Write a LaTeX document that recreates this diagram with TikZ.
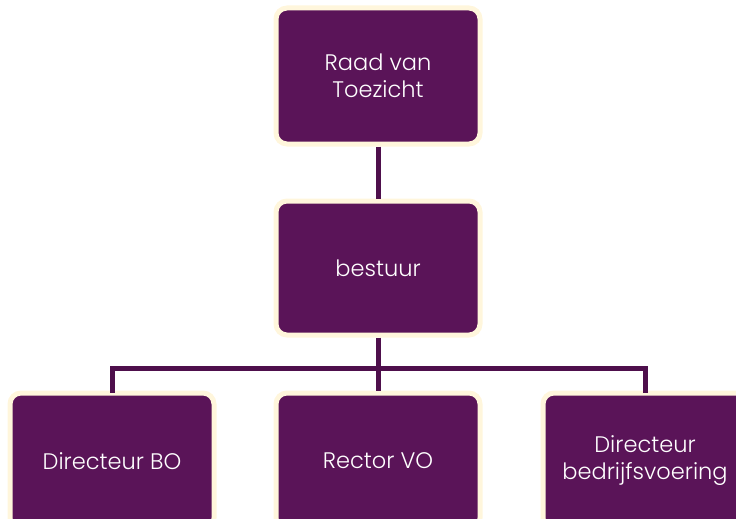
\documentclass[tikz,border=0pt]{standalone}
\usepackage{fontspec}
\setmainfont{Poppins Light}
\definecolor{boxfill}{HTML}{5A1458}
\definecolor{linecol}{HTML}{4E0F4C}
\definecolor{rim}{HTML}{FFF6DC}
\begin{document}
\begin{tikzpicture}[x=1pt,y=-1pt,
  orgbox/.style={draw=rim,line width=5pt,fill=boxfill,rounded corners=11pt,
    minimum width=204pt,inner sep=0pt,text=white,align=center,
    font=\fontsize{22.5}{27}\selectfont},
  conn/.style={draw=linecol,line width=5pt}]
\useasboundingbox (0,0) rectangle (736,519);
\clip (0,0) rectangle (736,519);
\node[orgbox,minimum height=136pt] (rvt) at (378,76) {Raad van\\Toezicht};
\node[orgbox,minimum height=134pt] (bst) at (378,268) {bestuur};
\node[orgbox,minimum height=136pt] (dbo) at (112,461) {Directeur BO};
\node[orgbox,minimum height=136pt] (rvo) at (378,461) {Rector VO};
\node[orgbox,minimum height=136pt] (dbv) at (645,461) {Directeur\\bedrijfsvoering};
\coordinate (hl) at (112,368);
\coordinate (hr) at (645,368);
\coordinate (hm) at (378,368);
\draw[conn] (rvt.south) -- (bst.north);
\draw[conn] (bst.south) -- (hm);
\draw[conn,line cap=rect] (dbo.north) -- (hl) -- (hr) -- (dbv.north);
\draw[conn] (hm) -- (rvo.north);
\end{tikzpicture}
\end{document}
